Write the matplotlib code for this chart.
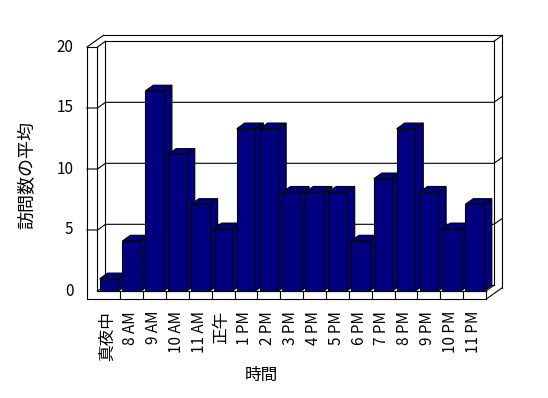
import matplotlib
matplotlib.use('Agg')
import matplotlib.pyplot as plt
from matplotlib.patches import Polygon

plt.rcParams['font.family'] = ['Noto Sans CJK JP', 'DejaVu Sans']

# データ
hours = ['真夜中', '8 AM', '9 AM', '10 AM', '11 AM', '正午', '1 PM', '2 PM', '3 PM',
         '4 PM', '5 PM', '6 PM', '7 PM', '8 PM', '9 PM', '10 PM', '11 PM']
visits = [1.0, 4.1, 16.4, 11.2, 7.1, 5.1, 13.3, 13.3, 8.1,
          8.1, 8.1, 4.1, 9.2, 13.3, 8.1, 5.1, 7.1]
yticks = [0, 5, 10, 15, 20]

navy = '#000080'
W, H = 548, 398
CAT_PX = 22.85   # 1カテゴリの幅 (px)
VAL_PX = 12.2    # 1単位の高さ (px)
X0_PX, Y0_PX = 97.5 + CAT_PX / 2, 291

# 擬似3Dの奥行き (データ単位)
DX, DY = 8 / CAT_PX, 5.7 / VAL_PX
TH = 1.05            # 奥の壁の厚み (奥行きに対する比)
LW = 10.5 / CAT_PX   # 左の壁の厚み
FH = 8.3 / VAL_PX    # 床の厚み
BW = 18.6 / CAT_PX   # 棒の幅


def px_x(p):
    return (p - X0_PX) / CAT_PX


def px_y(p):
    return (Y0_PX - p) / VAL_PX


fig = plt.figure(figsize=(W / 100, H / 100), dpi=100)
ax = fig.add_axes([0, 0, 1, 1])
ax.set_xlim(px_x(0), px_x(W))
ax.set_ylim(px_y(H), px_y(0))
ax.axis('off')

n = len(hours)
x0, x1, ytop = -0.5, n - 0.5, yticks[-1]
ox, oy = (1 + TH) * DX, (1 + TH) * DY
lk = dict(color='black', lw=0.8, zorder=2, solid_capstyle='projecting')


def line(xs, ys):
    ax.plot(xs, ys, **lk)


# 壁と床
line([x0 - LW, x0 - LW], [-FH, ytop])
line([x0 - LW, x0], [ytop, ytop])
line([x0, x0], [0, ytop])
line([x0 - LW, x0 - LW + ox], [ytop, ytop + oy])
line([x0, x0 + DX], [ytop, ytop + DY])
line([x0 - LW + ox, x1 + ox], [ytop + oy, ytop + oy])
line([x1 + ox, x1 + ox], [ytop + oy, -FH + oy])
line([x1 + DX, x1 + ox], [ytop + DY, ytop + oy])
line([x0 + DX, x1 + DX], [ytop + DY, ytop + DY])
line([x0 + DX, x0 + DX], [DY, ytop + DY])
line([x1 + DX, x1 + DX], [DY, ytop + DY])
line([x0 + DX, x1 + DX], [DY, DY])
line([x0, x0 + DX], [0, DY])
line([x1, x1 + DX], [0, DY])
line([x0 - LW, x1], [-FH, -FH])
line([x0, x1], [0, 0])
line([x1, x1], [-FH, 0])
line([x1, x1 + ox], [-FH, -FH + oy])
for k in range(1, n):
    line([x0 + k, x0 + k], [-FH, 0])

# 目盛線
for v in yticks[1:-1]:
    line([x0 - LW, x0, x0 + DX, x1 + DX, x1 + ox],
         [v, v, v + DY, v + DY, v + oy])

# 棒 (左から順に描く)
xs = list(range(n))
bars = ax.bar(xs, visits, width=BW, color=navy, edgecolor='black', lw=0.8)
for i, (b, v) in enumerate(zip(bars, visits)):
    l, r = i - BW / 2, i + BW / 2
    top = Polygon([(l, v), (r, v), (r + DX, v + DY), (l + DX, v + DY)],
                  closed=True, fc=navy, ec='black', lw=0.8, zorder=10 + 2 * i)
    side = Polygon([(r, 0), (r + DX, DY), (r + DX, v + DY), (r, v)],
                   closed=True, fc=navy, ec='black', lw=0.8, zorder=10 + 2 * i)
    ax.add_patch(side)
    ax.add_patch(top)
    b.set_zorder(11 + 2 * i)

# 目盛ラベル
for v in yticks:
    ax.text(px_x(73.5), v, str(v), ha='right', va='center', fontsize=11)
for i, h in enumerate(hours):
    ax.text(i - 0.05, px_y(311), h, rotation=90, ha='center', va='top',
            fontsize=11 if h.isascii() else 12)

ax.text(px_x(27.5), px_y(175), '訪問数の平均', rotation=90, ha='center',
        va='center', fontsize=13)
ax.text(px_x(261.5), px_y(375), '時間', ha='center', va='center', fontsize=12)

fig.savefig('out.png', dpi=100)
